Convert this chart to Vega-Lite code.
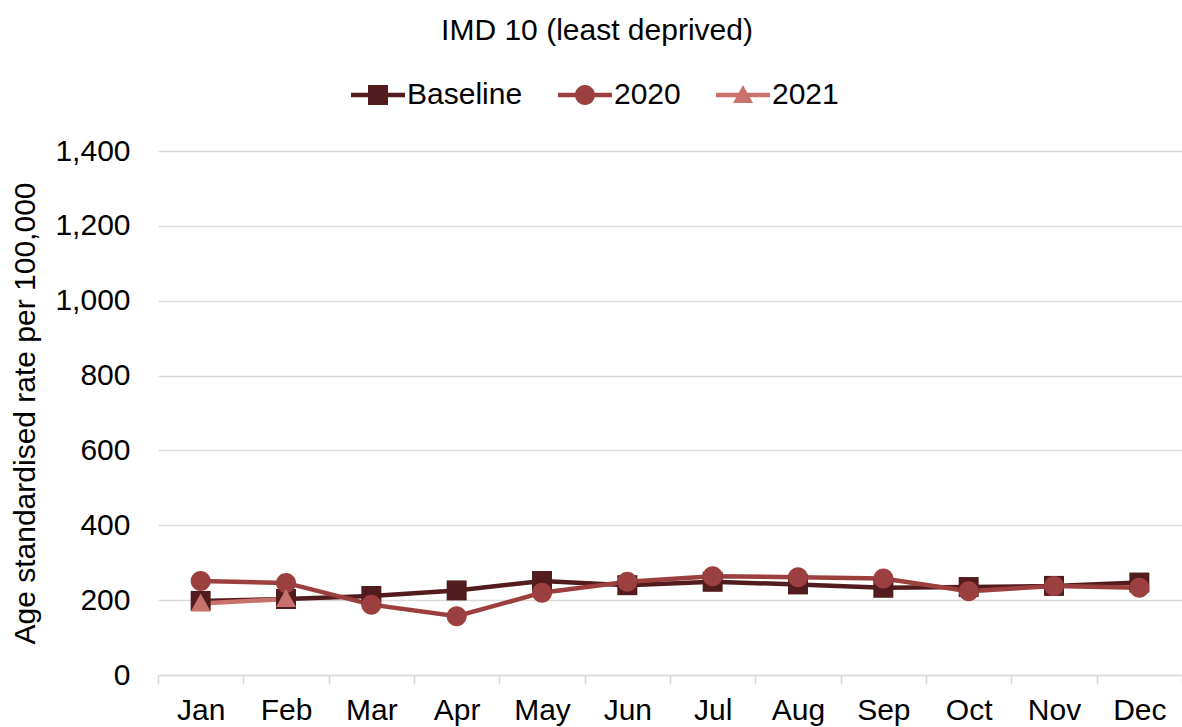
{
  "$schema": "https://vega.github.io/schema/vega-lite/v6.json",
  "autosize": {"type": "none"},
  "padding": {"left": 158, "top": 151, "right": 0, "bottom": 52},
  "width": 1024,
  "height": 524,
  "background": "white",
  "config": {
    "font": "Liberation Sans",
    "view": {"stroke": null},
    "axis": {"labelFont": "Liberation Sans", "titleFont": "Liberation Sans", "labelColor": "black", "titleColor": "black"},
    "legend": {"labelFont": "Liberation Sans"}
  },
  "title": {
    "text": "IMD 10 (least deprived)",
    "anchor": "middle",
    "frame": "group",
    "dx": -73,
    "fontSize": 30,
    "fontWeight": "normal",
    "color": "black",
    "font": "Liberation Sans",
    "offset": 34
  },
  "data": {
    "values": [
      {"month": "Jan", "series": "Baseline", "rate": 198},
      {"month": "Feb", "series": "Baseline", "rate": 203},
      {"month": "Mar", "series": "Baseline", "rate": 211},
      {"month": "Apr", "series": "Baseline", "rate": 226},
      {"month": "May", "series": "Baseline", "rate": 251},
      {"month": "Jun", "series": "Baseline", "rate": 240},
      {"month": "Jul", "series": "Baseline", "rate": 249},
      {"month": "Aug", "series": "Baseline", "rate": 242},
      {"month": "Sep", "series": "Baseline", "rate": 233},
      {"month": "Oct", "series": "Baseline", "rate": 235},
      {"month": "Nov", "series": "Baseline", "rate": 238},
      {"month": "Dec", "series": "Baseline", "rate": 247},
      {"month": "Jan", "series": "2020", "rate": 251},
      {"month": "Feb", "series": "2020", "rate": 246},
      {"month": "Mar", "series": "2020", "rate": 188},
      {"month": "Apr", "series": "2020", "rate": 157},
      {"month": "May", "series": "2020", "rate": 220},
      {"month": "Jun", "series": "2020", "rate": 249},
      {"month": "Jul", "series": "2020", "rate": 264},
      {"month": "Aug", "series": "2020", "rate": 261},
      {"month": "Sep", "series": "2020", "rate": 258},
      {"month": "Oct", "series": "2020", "rate": 224},
      {"month": "Nov", "series": "2020", "rate": 238},
      {"month": "Dec", "series": "2020", "rate": 233},
      {"month": "Jan", "series": "2021", "rate": 191},
      {"month": "Feb", "series": "2021", "rate": 203}
    ]
  },
  "encoding": {
    "x": {
      "field": "month",
      "type": "nominal",
      "sort": ["Jan", "Feb", "Mar", "Apr", "May", "Jun", "Jul", "Aug", "Sep", "Oct", "Nov", "Dec"],
      "bandPosition": 0.5,
      "scale": {"type": "band", "paddingInner": 0, "paddingOuter": 0},
      "axis": {
        "title": null,
        "labelAngle": 0,
        "labelFontSize": 30,
        "labelPadding": 11,
        "tickBand": "extent",
        "tickSize": 9,
        "tickColor": "#d9d9d9",
        "tickWidth": 1.5,
        "domainColor": "#d9d9d9",
        "domainWidth": 1.5,
        "grid": false
      }
    },
    "y": {
      "field": "rate",
      "type": "quantitative",
      "scale": {"domain": [0, 1400]},
      "axis": {
        "title": "Age standardised rate per 100,000",
        "titleFontSize": 30,
        "titleFontWeight": "normal",
        "titlePadding": 14,
        "values": [0, 200, 400, 600, 800, 1000, 1200, 1400],
        "format": ",.0f",
        "labelFontSize": 30,
        "labelPadding": 28,
        "ticks": false,
        "domain": false,
        "grid": true,
        "gridColor": "#d9d9d9",
        "gridWidth": 1.5
      }
    }
  },
  "layer": [
    {
      "mark": {"type": "point", "filled": true, "opacity": 0, "size": 400, "strokeWidth": 0},
      "encoding": {
        "color": {
          "field": "series",
          "type": "nominal",
          "scale": {"domain": ["Baseline", "2020", "2021"], "range": ["#521c1e", "#9b403e", "#c9716d"]},
          "legend": {
            "title": null,
            "orient": "none",
            "direction": "horizontal",
            "legendX": 205,
            "legendY": -71,
            "padding": 0,
            "symbolSize": 400,
            "symbolOpacity": 1,
            "symbolStrokeWidth": 0,
            "labelFontSize": 30,
            "labelColor": "black",
            "labelOffset": 14,
            "columnPadding": 35
          }
        },
        "shape": {
          "field": "series",
          "type": "nominal",
          "scale": {
            "domain": ["Baseline", "2020", "2021"],
            "range": [
              "M-2.7,-0.22H2.7V0.22H-2.7Z M-1,-1H1V1H-1Z",
              "M-2.7,-0.22H2.7V0.22H-2.7Z M1,0A1,1 0 1,1 -1,0A1,1 0 1,1 1,0Z",
              "M-2.7,-0.22H2.7V0.22H-2.7Z M0,-1L1,0.8L-1,0.8Z"
            ]
          },
          "legend": {
            "title": null,
            "orient": "none",
            "direction": "horizontal",
            "legendX": 205,
            "legendY": -71,
            "padding": 0,
            "symbolSize": 400,
            "symbolOpacity": 1,
            "symbolStrokeWidth": 0,
            "labelFontSize": 30,
            "labelColor": "black",
            "labelOffset": 14,
            "columnPadding": 35
          }
        }
      }
    },
    {
      "mark": {"type": "line", "strokeWidth": 4.5},
      "encoding": {
        "color": {
          "field": "series",
          "type": "nominal",
          "scale": {"domain": ["Baseline", "2020", "2021"], "range": ["#521c1e", "#9b403e", "#c9716d"]},
          "legend": null
        }
      }
    },
    {
      "mark": {"type": "point", "filled": true, "opacity": 1, "size": 400, "strokeWidth": 0},
      "encoding": {
        "color": {
          "field": "series",
          "type": "nominal",
          "scale": {"domain": ["Baseline", "2020", "2021"], "range": ["#521c1e", "#9b403e", "#c9716d"]},
          "legend": null
        },
        "shape": {
          "field": "series",
          "type": "nominal",
          "scale": {
            "domain": ["Baseline", "2020", "2021"],
            "range": [
              "M-1,-1H1V1H-1Z",
              "M1,0A1,1 0 1,1 -1,0A1,1 0 1,1 1,0Z",
              "M0,-1L1,0.8L-1,0.8Z"
            ]
          },
          "legend": null
        }
      }
    }
  ],
  "resolve": {"scale": {"color": "independent", "shape": "independent"}}
}
